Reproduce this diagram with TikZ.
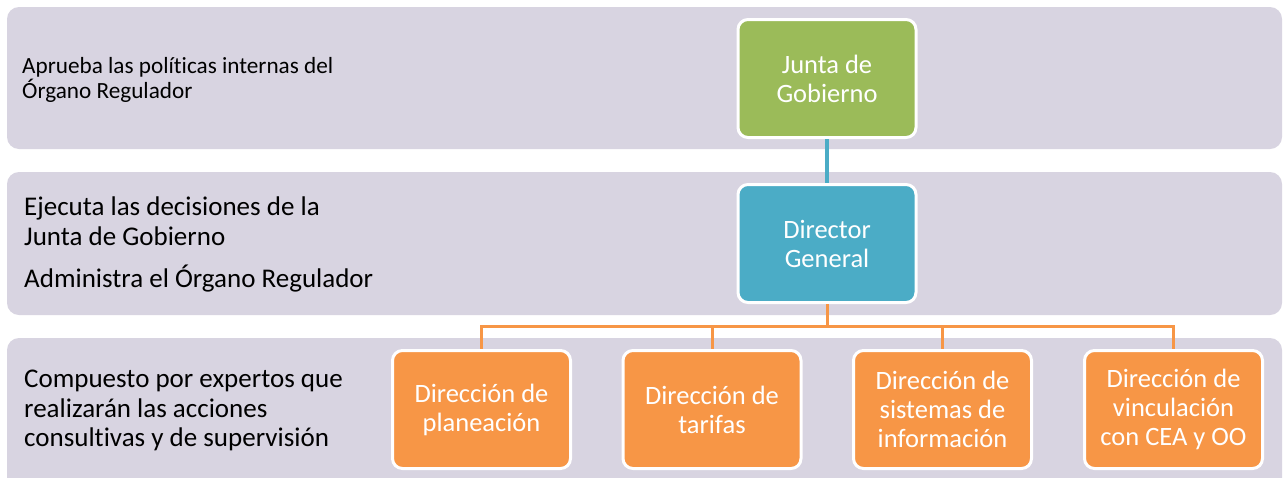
\documentclass[tikz,border=0pt]{standalone}
\usepackage{fontspec}
\setmainfont{Carlito}[Ligatures={NoCommon}]
\definecolor{bandcol}{RGB}{216,212,225}
\definecolor{greencol}{RGB}{155,187,89}
\definecolor{bluecol}{RGB}{75,172,198}
\definecolor{orangecol}{RGB}{247,150,70}
\begin{document}
\begin{tikzpicture}[x=1pt,y=-1pt,
  band/.style={fill=bandcol,draw=none,rounded corners=12pt},
  orgbox/.style={draw=white,line width=3pt,rounded corners=10pt,minimum width=178pt,minimum height=118pt,
    text=white,align=center,inner sep=0pt,font=\fontsize{26.5}{29}\selectfont},
  lefttxt/.style={anchor=base west,inner sep=0pt,text=black,font=\fontsize{27}{30}\selectfont},
  smalltxt/.style={anchor=base west,inner sep=0pt,text=black,font=\fontsize{23.2}{25}\selectfont},
  blueline/.style={draw=bluecol,line width=3.5pt},
  orangeline/.style={draw=orangecol,line width=3pt}]
\useasboundingbox (0,0) rectangle (1284,477);
\clip (0,0) rectangle (1284,477);
\fill[white] (0,0) rectangle (1284,477);
% bands
\path[band] (7,7) rectangle (1282,149);
\path[band] (7,172) rectangle (1282,315);
\path[band] (7,338) rectangle (1282,500);
% band texts
\node[smalltxt] (t1a) at (22,73) {Aprueba las políticas internas del};
\node[smalltxt] (t1b) at (22,98) {Órgano Regulador};
\node[lefttxt] (t2a) at (24,215) {Ejecuta las decisiones de la};
\node[lefttxt] (t2b) at (24,245) {Junta de Gobierno};
\node[lefttxt] (t2c) at (24,287) {Administra el Órgano Regulador};
\node[lefttxt] (t3a) at (24,387) {Compuesto por expertos que};
\node[lefttxt] (t3b) at (24,417) {realizarán las acciones};
\node[lefttxt] (t3c) at (24,446) {consultivas y de supervisión};
% boxes
\node[orgbox,fill=greencol] (junta) at (827,78.5) {Junta de\\Gobierno};
\node[orgbox,fill=bluecol] (dg) at (827,243.5) {Director\\General};
\node[orgbox,fill=orangecol] (c1) at (481.5,409.5) {Dirección de\\planeación};
\node[orgbox,fill=orangecol] (c2) at (712,409.5) {Dirección de\\tarifas};
\node[orgbox,fill=orangecol] (c3) at (942.5,409.5) {Dirección de\\sistemas de\\información};
\node[orgbox,fill=orangecol] (c4) at (1173.5,409.5) {Dirección de\\vinculación\\con CEA y OO};
% connectors
\coordinate (hub) at (827,326);
\draw[blueline] (junta.south) -- (dg.north);
\draw[orangeline] (dg.south) -- (hub);
\draw[orangeline] (hub) -| (c1.north);
\draw[orangeline] (hub) -| (c2.north);
\draw[orangeline] (hub) -| (c3.north);
\draw[orangeline] (hub) -| (c4.north);
\end{tikzpicture}
\end{document}
